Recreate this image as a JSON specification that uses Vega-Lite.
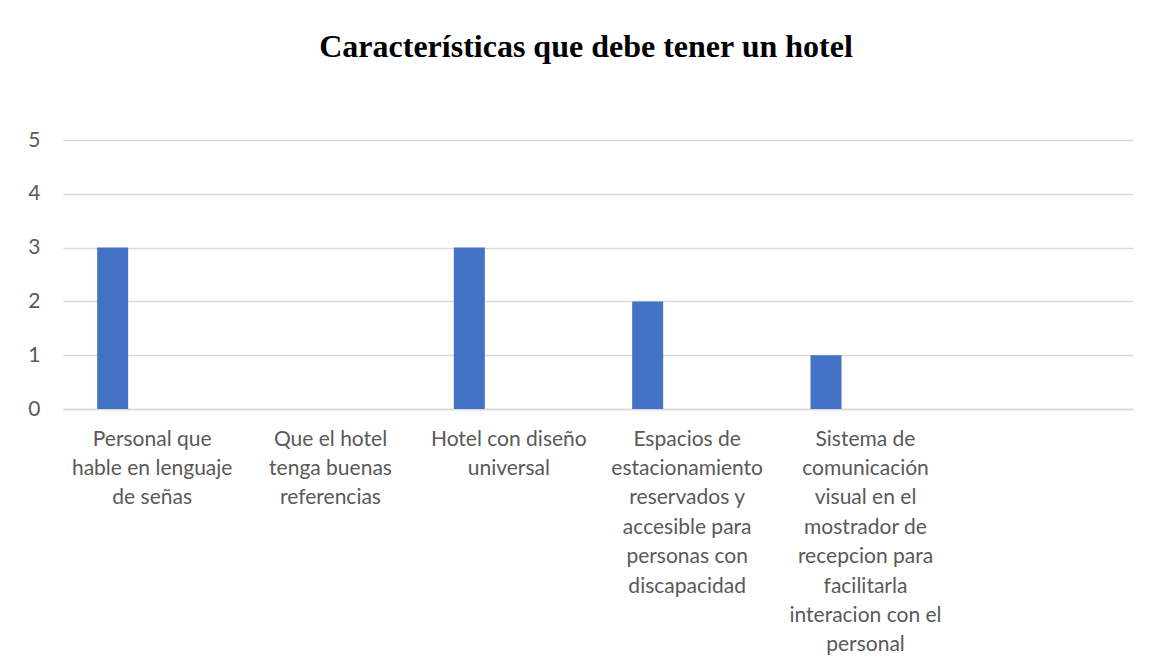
{
  "$schema": "https://vega.github.io/schema/vega-lite/v6.json",
  "width": 1070,
  "height": 269,
  "autosize": "none",
  "padding": {"left": 63, "top": 140, "right": 29, "bottom": 262},
  "background": "white",
  "title": {
    "text": "Características que debe tener un hotel",
    "font": "Liberation Serif",
    "fontSize": 32,
    "fontWeight": "bold",
    "color": "#000000",
    "anchor": "middle",
    "dx": -12,
    "offset": 65
  },
  "data": {
    "values": [
      {"caracteristica": "Personal que\nhable en lenguaje\nde señas", "serie": "Serie 1", "valor": 3},
      {"caracteristica": "Que el hotel\ntenga buenas\nreferencias", "serie": "Serie 1", "valor": 0},
      {"caracteristica": "Hotel con diseño\nuniversal", "serie": "Serie 1", "valor": 3},
      {"caracteristica": "Espacios de\nestacionamiento\nreservados y\naccesible para\npersonas con\ndiscapacidad", "serie": "Serie 1", "valor": 2},
      {"caracteristica": "Sistema de\ncomunicación\nvisual en el\nmostrador de\nrecepcion para\nfacilitarla\ninteracion con el\npersonal", "serie": "Serie 1", "valor": 1}
    ]
  },
  "mark": {"type": "bar", "color": "#4472C4"},
  "encoding": {
    "x": {
      "field": "caracteristica",
      "type": "nominal",
      "sort": null,
      "scale": {
        "domain": [
          "Personal que\nhable en lenguaje\nde señas",
          "Que el hotel\ntenga buenas\nreferencias",
          "Hotel con diseño\nuniversal",
          "Espacios de\nestacionamiento\nreservados y\naccesible para\npersonas con\ndiscapacidad",
          "Sistema de\ncomunicación\nvisual en el\nmostrador de\nrecepcion para\nfacilitarla\ninteracion con el\npersonal",
          " "
        ],
        "paddingInner": 0,
        "paddingOuter": 0
      },
      "axis": {
        "title": null,
        "labelAngle": 0,
        "labelExpr": "split(datum.label, '\\n')",
        "labelFont": "Lato",
        "labelFontSize": 21,
        "labelColor": "#595959",
        "labelLineHeight": 29.4,
        "labelBaseline": "top",
        "labelPadding": 19,
        "labelLimit": 400,
        "labelOverlap": false,
        "ticks": false,
        "domain": true,
        "domainColor": "#d9d9d9",
        "domainWidth": 1.3,
        "grid": false
      }
    },
    "xOffset": {
      "field": "serie",
      "type": "nominal",
      "scale": {"domain": ["Serie 1", "Serie 2", "Serie 3"], "paddingInner": 0.215, "paddingOuter": 0.865}
    },
    "y": {
      "field": "valor",
      "type": "quantitative",
      "scale": {"domain": [0, 5], "nice": false},
      "axis": {
        "title": null,
        "values": [0, 1, 2, 3, 4, 5],
        "format": "d",
        "labelFont": "Lato",
        "labelFontSize": 21,
        "labelColor": "#595959",
        "labelPadding": 23,
        "ticks": false,
        "domain": false,
        "grid": true,
        "gridColor": "#d9d9d9",
        "gridWidth": 1.3
      }
    }
  },
  "config": {"view": {"stroke": null}}
}
